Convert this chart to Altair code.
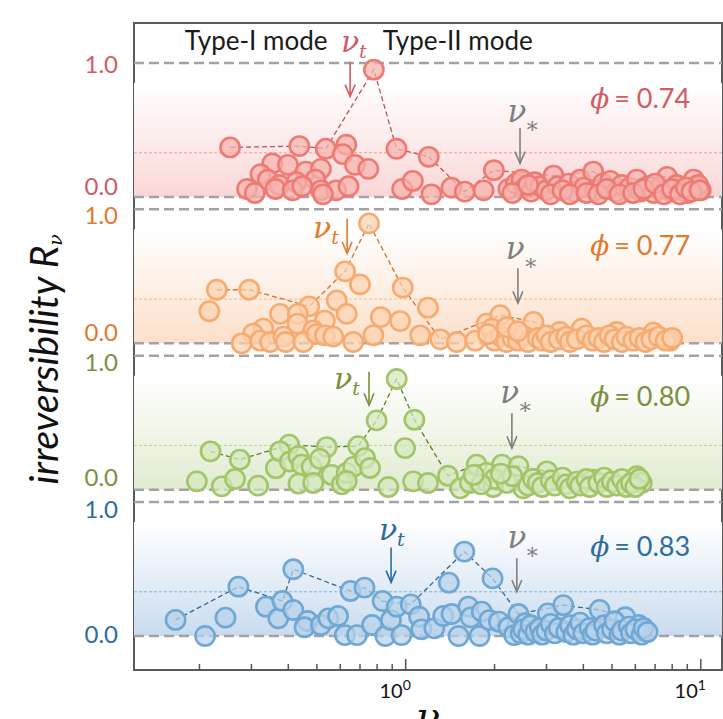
import altair as alt
import pandas as pd

# ---------------- data ----------------
PHI = ["0.74", "0.77", "0.80", "0.83"]

red_x = [0.254, 0.436, 0.536, 0.629, 0.612, 0.353, 0.399, 0.322, 0.459, 0.516, 0.673, 0.747, 0.341, 0.373, 0.426,
         0.494, 0.290, 0.308, 0.362, 0.414, 0.446, 0.516, 0.581, 0.640, 0.524,
         0.780, 0.931, 1.197, 0.973, 1.057, 1.222, 1.429, 1.585, 1.836, 1.990,
         2.23, 2.36, 2.47, 2.54, 2.66, 2.74, 2.86, 2.99, 3.17, 3.27, 3.57, 3.73, 3.90, 4.02, 4.32, 4.39, 4.65, 4.94,
         5.16, 5.40, 5.73, 6.07, 6.25, 6.63, 6.93, 7.25, 7.69, 7.92, 8.28, 8.65, 9.04, 9.46, 9.73, 10.0, 9.80,
         2.30, 2.60, 3.10, 3.40, 3.60, 4.10, 4.50, 4.80, 5.30, 5.90, 6.40, 7.00, 7.50, 8.00, 8.50, 8.90, 9.30, 9.90]
red_y = [0.37, 0.38, 0.36, 0.39, 0.32, 0.25, 0.24, 0.17, 0.19, 0.21, 0.24, 0.21, 0.13, 0.09, 0.11,
         0.13, 0.06, 0.03, 0.06, 0.05, 0.08, 0.05, 0.05, 0.08, 0.02,
         0.95, 0.36, 0.30, 0.06, 0.12, 0.02, 0.07, 0.04, 0.05, 0.20,
         0.06, 0.10, 0.13, 0.07, 0.04, 0.11, 0.08, 0.05, 0.16, 0.08, 0.10, 0.04, 0.13, 0.07, 0.19, 0.05, 0.10, 0.12,
         0.04, 0.09, 0.07, 0.13, 0.04, 0.08, 0.03, 0.07, 0.15, 0.04, 0.09, 0.05, 0.03, 0.13, 0.07, 0.05, 0.09,
         0.03, 0.09, 0.02, 0.05, 0.02, 0.03, 0.02, 0.06, 0.02, 0.03, 0.06, 0.10, 0.02, 0.06, 0.02, 0.07, 0.04, 0.05]
red_line_x = [0.254, 0.436, 0.536, 0.780, 0.931, 1.197, 1.585, 1.990, 3.17, 4.32, 4.94, 7.69, 9.46]
red_line_y = [0.37, 0.38, 0.36, 0.95, 0.36, 0.30, 0.04, 0.20, 0.16, 0.19, 0.12, 0.15, 0.13]

org_x = [0.229, 0.216, 0.295, 0.471, 0.623, 0.700, 0.375, 0.431, 0.584, 0.532, 0.631, 0.430, 0.486, 0.329, 0.304,
         0.278, 0.321, 0.347, 0.385, 0.392, 0.450, 0.499, 0.532, 0.568, 0.664,
         0.751, 0.977, 1.19, 0.823, 0.957, 0.777, 1.12, 1.31, 1.49, 1.72, 1.88, 2.09, 1.96, 2.71, 3.33, 3.95, 5.19,
         6.91, 7.87,
         2.0, 2.1, 2.2, 2.3, 2.4, 2.5, 2.6, 2.8, 2.9, 3.0, 3.1, 3.3, 3.5, 3.6, 3.8, 4.1, 4.3, 4.5, 4.7, 4.9,
         5.1, 5.4, 5.6, 5.9, 6.2, 6.5, 6.8, 7.2, 7.6, 8.0, 2.2, 2.4, 1.9]
org_y = [0.40, 0.24, 0.40, 0.276, 0.537, 0.44, 0.22, 0.22, 0.32, 0.17, 0.22, 0.147, 0.097, 0.11, 0.072,
         0.0, 0.02, 0.01, 0.05, 0.01, 0.01, 0.07, 0.06, 0.05, 0.01,
         0.895, 0.416, 0.266, 0.196, 0.166, 0.06, 0.06, 0.03, 0.01, 0.02, 0.147, 0.21, 0.11, 0.16, 0.085, 0.11, 0.085,
         0.08, 0.02,
         0.02, 0.05, 0.01, 0.04, 0.02, 0.06, 0.01, 0.04, 0.02, 0.06, 0.01, 0.03, 0.05, 0.01, 0.03, 0.06, 0.02, 0.04,
         0.01, 0.06, 0.03, 0.01, 0.05, 0.02, 0.04, 0.01, 0.03, 0.05, 0.02, 0.04, 0.12, 0.09, 0.07]
org_line_x = [0.229, 0.295, 0.471, 0.623, 0.751, 0.977, 1.31, 2.09, 2.71, 3.33, 3.95, 5.19, 6.91]
org_line_y = [0.40, 0.40, 0.276, 0.537, 0.895, 0.416, 0.03, 0.21, 0.16, 0.085, 0.11, 0.085, 0.08]

grn_x = [0.218, 0.274, 0.403, 0.540, 0.690, 0.196, 0.238, 0.264, 0.316, 0.363, 0.375, 0.405, 0.433, 0.444, 0.480,
         0.512, 0.433, 0.486, 0.561, 0.607, 0.631, 0.664, 0.631,
         0.932, 0.797, 1.07, 0.995, 0.728, 0.757, 0.873, 1.06, 1.19, 1.39, 1.53, 1.65, 1.74, 1.88, 1.98, 2.12, 2.41,
         2.50, 3.01, 4.32, 6.07, 6.31,
         2.0, 2.2, 2.3, 2.6, 2.7, 2.8, 2.9, 3.1, 3.2, 3.4, 3.5, 3.6, 3.8, 3.9, 4.1, 4.2, 4.5, 4.7, 4.8, 5.0,
         5.2, 5.4, 5.6, 5.8, 6.0, 6.2, 1.8, 1.7, 2.1]
grn_y = [0.286, 0.224, 0.336, 0.318, 0.325, 0.062, 0.025, 0.08, 0.03, 0.16, 0.286, 0.21, 0.25, 0.187, 0.17,
         0.23, 0.045, 0.05, 0.11, 0.04, 0.125, 0.17, 0.065,
         0.826, 0.517, 0.522, 0.31, 0.236, 0.162, 0.02, 0.062, 0.05, 0.104, 0.01, 0.05, 0.187, 0.125, 0.02, 0.187,
         0.175, 0.01, 0.137, 0.075, 0.10, 0.05,
         0.08, 0.05, 0.10, 0.03, 0.08, 0.05, 0.02, 0.07, 0.03, 0.09, 0.04, 0.01, 0.06, 0.03, 0.08, 0.02, 0.05, 0.09,
         0.02, 0.06, 0.03, 0.08, 0.02, 0.05, 0.02, 0.08, 0.04, 0.11, 0.12]
grn_line_x = [0.218, 0.274, 0.403, 0.540, 0.690, 0.797, 0.932, 1.07, 1.39, 1.74, 2.12, 2.41, 3.01, 4.32, 6.07]
grn_line_y = [0.286, 0.224, 0.336, 0.318, 0.325, 0.517, 0.826, 0.522, 0.104, 0.187, 0.187, 0.175, 0.137, 0.075, 0.10]

blu_x = [0.166, 0.209, 0.245, 0.271, 0.416, 0.336, 0.370, 0.382, 0.416, 0.465, 0.454, 0.516, 0.547, 0.590, 0.622,
         0.684, 0.650, 0.725, 0.769, 0.835, 0.853, 0.891, 0.932, 0.968, 1.04, 1.11, 1.13, 1.25, 1.34, 1.40,
         1.43, 1.51, 1.58, 1.63, 1.66, 1.78, 1.81, 1.97, 1.92, 2.07, 2.23, 2.33, 2.41, 2.54, 3.03,
         3.42, 4.54, 5.55, 6.16, 6.25,
         2.45, 2.5, 2.6, 2.65, 2.75, 2.85, 2.9, 3.0, 3.1, 3.2, 3.3, 3.5, 3.6, 3.7, 3.8, 3.9, 4.0, 4.2, 4.3, 4.4,
         4.7, 4.8, 5.0, 5.1, 5.3, 5.4, 5.7, 5.8, 6.0, 6.3, 6.4, 6.6]
blu_y = [0.12, 0.0, 0.137, 0.368, 0.498, 0.219, 0.132, 0.261, 0.194, 0.112, 0.065, 0.082, 0.132, 0.149, 0.007,
         0.007, 0.336, 0.361, 0.082, 0.261, 0.0, 0.119, 0.219, 0.007, 0.236, 0.144, 0.05, 0.057, 0.149, 0.398,
         0.164, 0.0, 0.63, 0.219, 0.139, 0.0, 0.182, 0.43, 0.119, 0.107, 0.065, 0.007, 0.164, 0.095, 0.169,
         0.23, 0.195, 0.14, 0.082, 0.04,
         0.02, 0.05, 0.01, 0.08, 0.03, 0.06, 0.01, 0.04, 0.09, 0.02, 0.06, 0.03, 0.08, 0.01, 0.05, 0.10, 0.02, 0.06,
         0.01, 0.04, 0.08, 0.02, 0.05, 0.11, 0.01, 0.04, 0.07, 0.02, 0.05, 0.01, 0.06, 0.03]
blu_line_x = [0.166, 0.271, 0.382, 0.416, 0.650, 0.725, 0.835, 1.04, 1.58, 1.97, 2.41, 3.42, 4.54, 5.55]
blu_line_y = [0.12, 0.368, 0.261, 0.498, 0.336, 0.361, 0.261, 0.236, 0.63, 0.43, 0.164, 0.23, 0.195, 0.14]

# annotations (nu, R within each panel)
nut_text_x = [0.648, 0.521, 0.614, 0.871]
nut_text_y = [1.15, 0.85, 0.82, 0.78]
nut_arrow_x = [0.648, 0.633, 0.751, 0.892]
nut_arrow_top = [1.01, 0.93, 0.88, 0.66]
nut_arrow_bot = [0.75, 0.67, 0.63, 0.40]
nus_text_x = [2.38, 2.35, 2.25, 2.38]
nus_text_y = [0.63, 0.70, 0.715, 0.725]
nus_arrow_x = [2.44, 2.40, 2.29, 2.38]
nus_arrow_top = [0.515, 0.56, 0.57, 0.58]
nus_arrow_bot = [0.25, 0.30, 0.31, 0.33]
phi_y = [0.724, 0.716, 0.687, 0.657]
phi_sym_x = 4.55
phi_eq_x = 5.09
ref_level = 0.33
mode_text = ["Type-I mode", "Type-II mode"]
mode_x = [0.311, 1.50]
mode_y = 1.157
minor_ticks = [0.2, 0.3, 0.4, 0.5, 0.6, 0.7, 0.8, 0.9, 2, 3, 4, 5, 6, 7, 8, 9]
major_ticks = [1, 10]
major_sup = ["0", "1"]

# ---------------- styling ----------------
STEP = 1.092
OFFSET = {p: STEP * (3 - i) for i, p in enumerate(PHI)}
LABEL_COL = dict(zip(PHI, ["#cf5c66", "#e07a2c", "#7a9040", "#2e6c9e"]))
FILL_COL = dict(zip(PHI, ["#f5b3ad", "#fcd2b0", "#d4e7bd", "#b7d3ea"]))
EDGE_COL = dict(zip(PHI, ["#ee7b73", "#f6ab72", "#a3c468", "#70a7d3"]))
LINE_COL = dict(zip(PHI, ["#c0505c", "#d3702c", "#5f7b30", "#2d6a9a"]))
DOT_COL = dict(zip(PHI, ["#f29a9a", "#f6bb88", "#bcd68e", "#7ab4e0"]))
GRAD = dict(zip(PHI, [("#fad6d6", "#fce7e7"), ("#fcdfc9", "#fdecdf"),
                      ("#e0ebd0", "#edf3e3"), ("#c8dbee", "#dfeaf5")]))
LAB_DY_ZERO = dict(zip(PHI, [-9, -9, -11, 0]))
LAB_DY_ONE = dict(zip(PHI, [3, 8, 8, 9]))
GRAY = "#a3a3a3"
W, H = 588, 647
SANS = "Lato"
SERIF = "DejaVu Serif"

xs = alt.Scale(type="log", domain=[0.12, 11.8], nice=False)
ys = alt.Scale(domain=[-0.2537, 3 * STEP + 1.2985], nice=False, zero=False)
X = alt.X("nu:Q", scale=xs, axis=None)
Y = alt.Y("yy:Q", scale=ys, axis=None)

pts, lns, ann = [], [], []
series = {"0.74": (red_x, red_y, red_line_x, red_line_y),
          "0.77": (org_x, org_y, org_line_x, org_line_y),
          "0.80": (grn_x, grn_y, grn_line_x, grn_line_y),
          "0.83": (blu_x, blu_y, blu_line_x, blu_line_y)}
for i, p in enumerate(PHI):
    sx, sy, lx, ly = series[p]
    assert len(sx) == len(sy) and len(lx) == len(ly)
    for a, b in zip(sx, sy):
        pts.append({"nu": a, "yy": b + OFFSET[p], "fill": FILL_COL[p], "edge": EDGE_COL[p]})
    for k, (a, b) in enumerate(zip(lx, ly)):
        lns.append({"nu": a, "yy": b + OFFSET[p], "panel": p, "k": k, "col": LINE_COL[p]})
    ann.append({"panel": p, "off": OFFSET[p], "col": LABEL_COL[p], "dot": DOT_COL[p],
                "nut_x": nut_text_x[i], "nut_y": nut_text_y[i] + OFFSET[p],
                "nta_x": nut_arrow_x[i], "nta_t": nut_arrow_top[i] + OFFSET[p], "nta_b": nut_arrow_bot[i] + OFFSET[p],
                "nus_x": nus_text_x[i], "nus_y": nus_text_y[i] + OFFSET[p],
                "nsa_x": nus_arrow_x[i], "nsa_t": nus_arrow_top[i] + OFFSET[p], "nsa_b": nus_arrow_bot[i] + OFFSET[p],
                "phi_y": phi_y[i] + OFFSET[p], "phi_txt": "= " + p,
                "phx": phi_sym_x, "phe": phi_eq_x,
                "ref": ref_level + OFFSET[p], "zero": OFFSET[p], "one": 1 + OFFSET[p]})
pts = pd.DataFrame(pts)
lns = pd.DataFrame(lns)
ann = pd.DataFrame(ann)

layers = []
# gradient bands
for p in PHI:
    bot, mid = GRAD[p]
    band = pd.DataFrame({"y0": [OFFSET[p]], "y1": [OFFSET[p] + 0.85]})
    layers.append(
        alt.Chart(band).mark_rect(
            color=alt.Gradient(gradient="linear",
                               stops=[alt.GradientStop(color=bot, offset=0),
                                      alt.GradientStop(color=mid, offset=0.39),
                                      alt.GradientStop(color="#ffffff", offset=1)],
                               x1=0, x2=0, y1=1, y2=0)
        ).encode(y=alt.Y("y0:Q", scale=ys, axis=None), y2="y1:Q", x=alt.value(0), x2=alt.value(W))
    )

base = alt.Chart(ann)
# gray dashed 0 / 1 lines
for fld in ["zero", "one"]:
    layers.append(base.mark_rule(color=GRAY, strokeWidth=2.5, strokeDash=[10, 5]).encode(
        y=alt.Y(f"{fld}:Q", scale=ys, axis=None), x=alt.value(0), x2=alt.value(W)))
# thin dotted reference line
layers.append(base.mark_rule(strokeWidth=1, strokeDash=[3, 2]).encode(
    y=alt.Y("ref:Q", scale=ys, axis=None), x=alt.value(0), x2=alt.value(W),
    stroke=alt.Stroke("dot:N", scale=None)))

# x ticks (inside)
layers.append(alt.Chart(pd.DataFrame({"nu": minor_ticks})).mark_rule(color="#555555", strokeWidth=1.5).encode(
    x=X, y=alt.value(H), y2=alt.value(H - 6)))
layers.append(alt.Chart(pd.DataFrame({"nu": major_ticks})).mark_rule(color="#555555", strokeWidth=1.5).encode(
    x=X, y=alt.value(H), y2=alt.value(H - 11)))
tl = pd.DataFrame({"nu": major_ticks, "sup": major_sup})
layers.append(alt.Chart(tl).mark_text(font=SANS, fontSize=20, align="right", baseline="alphabetic",
                                      color="#111111", dx=-3).encode(
    x=X, y=alt.value(H + 28), text=alt.value("10")))
layers.append(alt.Chart(tl).mark_text(font=SANS, fontSize=14, align="left", baseline="alphabetic",
                                      color="#111111", dx=-3).encode(
    x=X, y=alt.value(H + 20), text="sup:N"))

# dashed connecting lines
layers.append(alt.Chart(lns).mark_line(strokeWidth=1.3, strokeDash=[5, 3]).encode(
    x=X, y=Y, detail="panel:N", order="k:Q", stroke=alt.Stroke("col:N", scale=None)))

# circles
layers.append(alt.Chart(pts).mark_circle(size=370, strokeWidth=2.6, fillOpacity=0.72, strokeOpacity=1,
                                         opacity=1).encode(
    x=X, y=Y, fill=alt.Fill("fill:N", scale=None), stroke=alt.Stroke("edge:N", scale=None)))

# nu_t arrows and labels
chev = "M-0.42,-1L0,0L0.42,-1"
layers.append(base.mark_rule(strokeWidth=1.6).encode(
    x=alt.X("nta_x:Q", scale=xs, axis=None), y=alt.Y("nta_t:Q", scale=ys, axis=None), y2="nta_b:Q",
    stroke=alt.Stroke("col:N", scale=None)))
layers.append(base.mark_point(shape=chev, filled=False, size=560, strokeWidth=1.6, opacity=1).encode(
    x=alt.X("nta_x:Q", scale=xs, axis=None), y=alt.Y("nta_b:Q", scale=ys, axis=None),
    stroke=alt.Stroke("col:N", scale=None)))
layers.append(base.mark_text(font=SERIF, fontStyle="italic", fontSize=30, baseline="middle", align="center").encode(
    x=alt.X("nut_x:Q", scale=xs, axis=None), y=alt.Y("nut_y:Q", scale=ys, axis=None), text=alt.value("ν"),
    color=alt.Color("col:N", scale=None)))
layers.append(base.mark_text(font=SERIF, fontStyle="italic", fontSize=19, baseline="middle", align="left",
                             dx=9, dy=9).encode(
    x=alt.X("nut_x:Q", scale=xs, axis=None), y=alt.Y("nut_y:Q", scale=ys, axis=None), text=alt.value("t"),
    color=alt.Color("col:N", scale=None)))

# nu_* arrows and labels
layers.append(base.mark_rule(strokeWidth=1.6, color="#7f7f7f").encode(
    x=alt.X("nsa_x:Q", scale=xs, axis=None), y=alt.Y("nsa_t:Q", scale=ys, axis=None), y2="nsa_b:Q"))
layers.append(base.mark_point(shape=chev, filled=False, size=560, strokeWidth=1.6, opacity=1,
                              color="#7f7f7f").encode(
    x=alt.X("nsa_x:Q", scale=xs, axis=None), y=alt.Y("nsa_b:Q", scale=ys, axis=None)))
layers.append(base.mark_text(font=SERIF, fontStyle="italic", fontSize=31, baseline="middle", align="center",
                             color="#7f7f7f").encode(
    x=alt.X("nus_x:Q", scale=xs, axis=None), y=alt.Y("nus_y:Q", scale=ys, axis=None), text=alt.value("ν")))
layers.append(base.mark_text(font=SERIF, fontSize=22, baseline="middle", align="left", dx=8, dy=13,
                             color="#7f7f7f").encode(
    x=alt.X("nus_x:Q", scale=xs, axis=None), y=alt.Y("nus_y:Q", scale=ys, axis=None), text=alt.value("∗")))

# phi labels
layers.append(base.mark_text(font=SERIF, fontStyle="italic", fontSize=28, baseline="middle", align="center").encode(
    x=alt.X("phx:Q", scale=xs, axis=None), y=alt.Y("phi_y:Q", scale=ys, axis=None),
    text=alt.value("ϕ"), color=alt.Color("col:N", scale=None)))
layers.append(base.mark_text(font=SANS, fontSize=27, baseline="middle", align="left").encode(
    x=alt.X("phe:Q", scale=xs, axis=None), y=alt.Y("phi_y:Q", scale=ys, axis=None),
    text="phi_txt:N", color=alt.Color("col:N", scale=None)))

# y tick labels (one text layer per label so each can be nudged like the original)
for p in PHI:
    sub = ann[ann["panel"] == p]
    for fld, lab, dyv in [("zero", "0.0", LAB_DY_ZERO[p]), ("one", "1.0", LAB_DY_ONE[p])]:
        layers.append(alt.Chart(sub).mark_text(font=SANS, fontSize=24, align="right", baseline="middle",
                                               dy=dyv).encode(
            x=alt.value(-16), y=alt.Y(f"{fld}:Q", scale=ys, axis=None), text=alt.value(lab),
            color=alt.Color("col:N", scale=None)))

# mode labels
md = pd.DataFrame({"nu": mode_x, "t": mode_text, "yy": [mode_y + OFFSET["0.74"]] * 2})
layers.append(alt.Chart(md).mark_text(font=SANS, fontSize=26, baseline="middle", align="center",
                                      color="#1a1a1a").encode(x=X, y=Y, text="t:N"))

# axis titles
one = pd.DataFrame({"a": [0]})
layers.append(alt.Chart(one).mark_text(font=SANS, fontStyle="italic", fontSize=39, angle=270, align="center",
                                       baseline="alphabetic", color="#111111").encode(
    x=alt.value(-76), y=alt.value(342), text=alt.value("irreversibility R")))
layers.append(alt.Chart(one).mark_text(font=SERIF, fontStyle="italic", fontSize=19, angle=270, align="center",
                                       baseline="alphabetic", color="#111111").encode(
    x=alt.value(-72), y=alt.value(217), text=alt.value("ν")))
layers.append(alt.Chart(one).mark_text(font=SERIF, fontStyle="italic", fontSize=40, align="center",
                                       baseline="alphabetic", color="#111111").encode(
    x=alt.value(294), y=alt.value(707), text=alt.value("ν")))

chart = alt.layer(*layers).properties(
    width=W, height=H,
    autosize=alt.AutoSizeParams(type="none"),
    padding={"left": 134, "top": 23, "right": 1, "bottom": 49},
).configure_view(stroke="#5a5a5a", strokeWidth=2)

chart.save("out.html", embed_options={"renderer": "svg", "actions": False})
